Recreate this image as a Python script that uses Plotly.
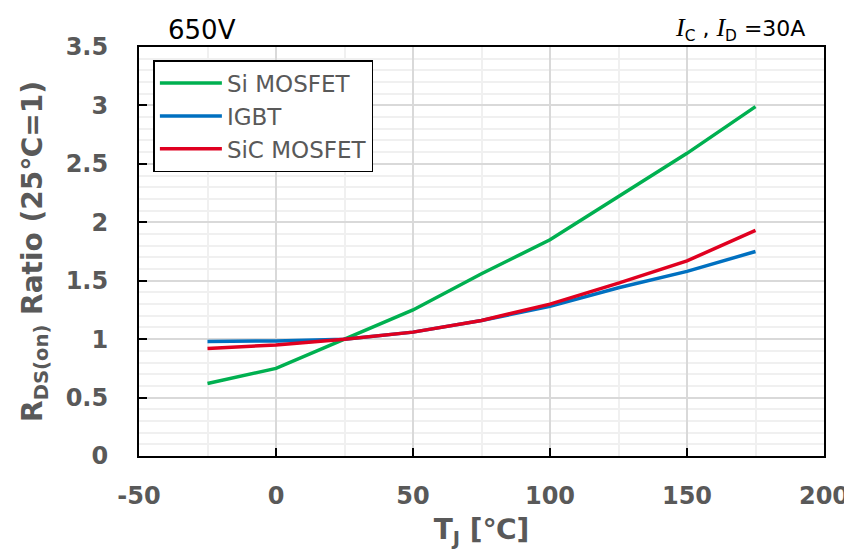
import plotly.graph_objects as go

temps = [-25, 0, 25, 50, 75, 100, 125, 150, 175]
si_mosfet = [0.62, 0.75, 1.00, 1.25, 1.56, 1.85, 2.22, 2.59, 2.99]
igbt = [0.98, 0.985, 1.00, 1.06, 1.16, 1.28, 1.44, 1.58, 1.75]
sic_mosfet = [0.92, 0.95, 1.00, 1.06, 1.16, 1.30, 1.48, 1.67, 1.93]

x_ticks = [-50, 0, 50, 100, 150, 200]
x_labels = ["-50", "0", "50", "100", "150", "200"]
y_ticks = [0, 0.5, 1, 1.5, 2, 2.5, 3, 3.5]
y_labels = ["0", "0.5", "1", "1.5", "2", "2.5", "3", "3.5"]

series = [
    ("Si MOSFET", si_mosfet, "#00B050"),
    ("IGBT", igbt, "#0070C0"),
    ("SiC MOSFET", sic_mosfet, "#E00020"),
]

fig = go.Figure()
for name, vals, col in series:
    fig.add_trace(go.Scatter(x=temps, y=vals, name=name, mode="lines",
                             line=dict(color=col, width=3.5)))

tickfont = dict(family="DejaVu Sans", size=24, color="#595959", weight="bold")
titlefont = dict(family="DejaVu Sans", size=28, color="#595959", weight="bold")
fig.update_layout(
    width=852, height=551,
    margin=dict(l=131, r=36, t=39, b=103),
    plot_bgcolor="white", paper_bgcolor="white",
    showlegend=True,
    legend=dict(x=0.021, y=0.968, xanchor="left", yanchor="top",
                bordercolor="black", borderwidth=1.5, bgcolor="white",
                font=dict(family="DejaVu Sans", size=23, color="#595959"),
                tracegroupgap=0, itemwidth=62),
    xaxis=dict(range=[-50, 200], tickvals=x_ticks, ticktext=x_labels,
               automargin=False,
               ticks="inside", ticklen=8, tickwidth=2, tickcolor="black",
               showline=True, linecolor="black", linewidth=2, mirror=True,
               showgrid=True, gridcolor="#D9D9D9", gridwidth=1.5,
               minor=dict(dtick=25, showgrid=True, gridcolor="#F0F0F0", gridwidth=1.5),
               tickfont=tickfont, ticklabelstandoff=17,
               title=dict(text="T<sub>J</sub> [℃]", standoff=11, font=titlefont),
               zeroline=False),
    yaxis=dict(range=[0, 3.5], tickvals=y_ticks, ticktext=y_labels,
               automargin=False,
               ticks="inside", ticklen=8, tickwidth=2, tickcolor="black",
               showline=True, linecolor="black", linewidth=2, mirror=True,
               showgrid=True, gridcolor="#D9D9D9", gridwidth=1.5,
               minor=dict(dtick=0.1, showgrid=True, gridcolor="#F0F0F0", gridwidth=1.5),
               tickfont=tickfont, ticklabelstandoff=24,
               title=dict(text="R<sub>DS(on)</sub> Ratio (25℃=1)", standoff=15, font=titlefont),
               zeroline=False),
    font=dict(family="DejaVu Sans"),
)

fig.add_annotation(text="650V", xref="paper", yref="paper", x=0.04, y=1.0,
                   xanchor="left", yanchor="bottom", showarrow=False,
                   font=dict(family="DejaVu Sans", size=26, color="black"))
fig.add_annotation(text="<span style='font-family:Liberation Serif;font-size:26px'><i>I</i></span><sub>C</sub> , "
                        "<span style='font-family:Liberation Serif;font-size:26px'><i>I</i></span><sub>D</sub> =30A",
                   xref="paper", yref="paper", x=0.975, y=1.0,
                   xanchor="right", yanchor="bottom", showarrow=False,
                   font=dict(family="DejaVu Sans", size=22, color="black"))

fig.write_html("out.html")
